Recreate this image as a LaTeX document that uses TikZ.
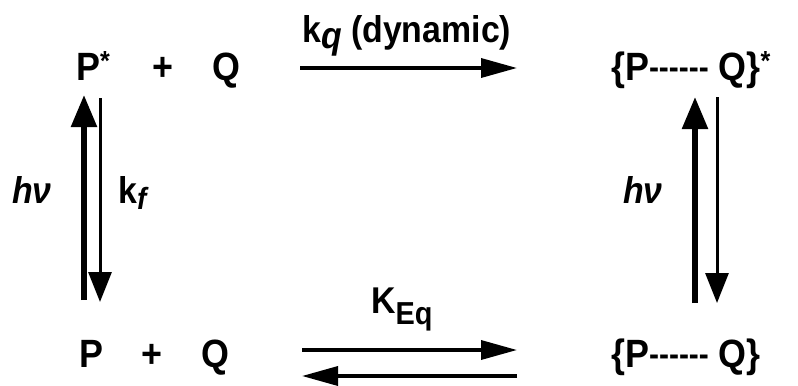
\documentclass[tikz,border=0pt]{standalone}
\usepackage{graphicx}
\usepackage{fontspec}
\setmainfont{Liberation Sans}
\usetikzlibrary{arrows.meta}
\newcommand{\tall}[1]{\scalebox{1}[1.1]{#1}}
\newcommand{\bond}{\raisebox{1bp}{\fontsize{30}{30}\selectfont-{}-{}-{}-{}-{}-}}

\begin{document}
\begin{tikzpicture}[x=1bp,y=-1bp,
  species/.style={font=\fontsize{36}{40}\selectfont\bfseries,inner sep=0pt,anchor=base},
  rate/.style={font=\fontsize{34}{38}\selectfont\bfseries,inner sep=0pt,anchor=base west},
  hor/.style={line width=3.5bp,-{Triangle[length=36bp,width=19bp]}},
  vup/.style={line width=5.5bp,-{Triangle[length=32bp,width=25bp]}},
  vdown/.style={line width=3bp,-{Triangle[length=30bp,width=23bp]}}]
  \useasboundingbox (0,0) rectangle (798,385);
  % top row
  \node[species,anchor=base west] (Pex) at (76,80) {\tall{P\textsuperscript{*}}};
  \node[species] (plusT) at (163,80) {\tall{+}};
  \node[species,anchor=base west] (Qt) at (212,80) {\tall{Q}};
  \node[species] (PQex) at (691,80) {\tall{\{P\bond\ Q\}\textsuperscript{*}}};
  % bottom row
  \node[species,anchor=base west] (Pg) at (79,367) {\tall{P}};
  \node[species] (plusB) at (152,367) {\tall{+}};
  \node[species,anchor=base west] (Qg) at (201,367) {\tall{Q}};
  \node[species] (PQg) at (686,367) {\tall{\{P\bond\ Q\}}};
  % rate labels
  \node[rate] (kq) at (302,42) {\tall{k\raisebox{-6bp}{\itshape q} (dynamic)}};
  \node[rate] (kf) at (118,203) {\tall{k\raisebox{-6bp}{\fontsize{28}{30}\selectfont\itshape f}}};
  \node[rate] (Keq) at (371,313) {\tall{K\raisebox{-10bp}{\fontsize{29}{30}\selectfont Eq}}};
  \node[rate,anchor=base] (hvL) at (32,203) {\tall{\itshape hν}};
  \node[rate,anchor=base] (hvR) at (643,203) {\tall{\itshape hν}};
  % arrow ends
  \coordinate (qA) at (300,68);   \coordinate (qB) at (517,68);
  \coordinate (eA) at (302,350);  \coordinate (eB) at (517,350);
  \coordinate (bA) at (517,376);  \coordinate (bB) at (302,376);
  \coordinate (uL) at (84,300);   \coordinate (uLt) at (84,95);
  \coordinate (dL) at (100,98);   \coordinate (dLt) at (100,302);
  \coordinate (uR) at (695,303);  \coordinate (uRt) at (695,97);
  \coordinate (dR) at (717,97);   \coordinate (dRt) at (717,303);
  \draw[hor] (qA) -- (qB);
  \draw[hor] (eA) -- (eB);
  \draw[hor] (bA) -- (bB);
  \draw[vup] (uL) -- (uLt);
  \draw[vdown] (dL) -- (dLt);
  \draw[vup] (uR) -- (uRt);
  \draw[vdown] (dR) -- (dRt);
\end{tikzpicture}
\end{document}
